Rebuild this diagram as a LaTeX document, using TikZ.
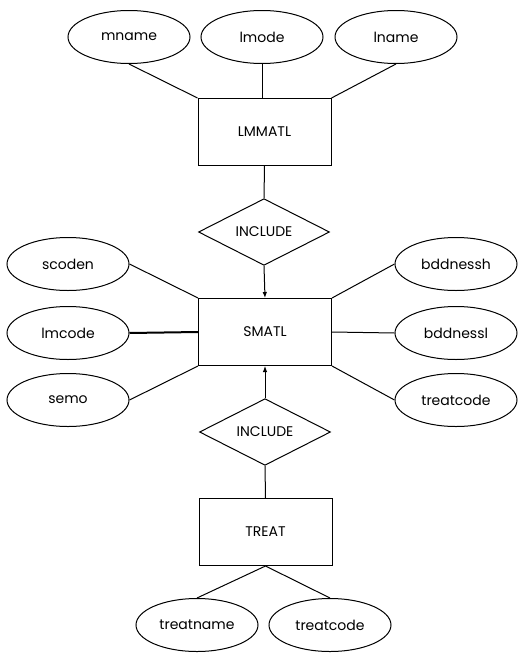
\documentclass[tikz,border=0pt]{standalone}
\usepackage{fontspec}
\setmainfont{Poppins}
\usetikzlibrary{shapes.geometric,arrows.meta}

\tikzset{
  entity/.style={draw, rectangle, minimum width=133pt, minimum height=67pt, inner sep=0pt, line width=1pt},
  attr/.style={draw, ellipse, minimum width=122pt, minimum height=53pt, inner sep=0pt, line width=1pt},
  rel/.style={draw, diamond, minimum width=131pt, minimum height=65pt, inner sep=0pt, line width=1pt},
  link/.style={line width=1pt},
  boldlink/.style={line width=2pt},
  arr/.style={line width=1pt, -{Latex[length=6pt,width=4.5pt]}},
  every node/.style={font=\fontsize{14pt}{16pt}\selectfont}
}

\begin{document}
\begin{tikzpicture}[x=1pt, y=-1pt]
\useasboundingbox (0,0) rectangle (518,656);

% top entity and its attributes
\node[attr] (mname) at (129,37) {mname};
\node[attr] (lmode) at (262,37) {lmode};
\node[attr] (lname) at (396,37) {lname};
\node[entity] (lmmatl) at (264.5,132) {LMMATL};

% first relationship
\node[rel] (inc1) at (264,232) {INCLUDE};

% central entity
\node[entity] (smatl) at (265,332) {SMATL};
\node[attr] (scoden) at (68,264) {scoden};
\node[attr] (lmcode) at (68,333) {lmcode};
\node[attr] (semo) at (68,400) {semo};
\node[attr] (bddh) at (456,264) {bddnessh};
\node[attr] (bddl) at (456,333) {bddnessl};
\node[attr] (tcode1) at (456,400) {treatcode};

% second relationship and bottom entity
\node[rel] (inc2) at (265,432) {INCLUDE};
\node[entity] (treat) at (265.5,532) {TREAT};
\node[attr] (tname) at (197,625) {treatname};
\node[attr] (tcode2) at (330,625) {treatcode};

% connectors
\draw[link] (mname.south) -- (lmmatl.north west);
\draw[link] (lmode.south) -- (lmode.south |- lmmatl.north);
\draw[link] (lname.south) -- (lmmatl.north east);
\draw[link] (lmmatl.south) -- (inc1.north);
\draw[arr] (inc1.south) -- (smatl.north);
\draw[arr] (inc2.north) -- (smatl.south);
\draw[link] (scoden.east) -- (smatl.north west);
\draw[boldlink] (lmcode.east) -- (smatl.west);
\draw[link] (semo.east) -- (smatl.south west);
\draw[link] (bddh.west) -- (smatl.north east);
\draw[link] (bddl.west) -- (smatl.east);
\draw[link] (tcode1.west) -- (smatl.south east);
\draw[link] (inc2.south) -- (treat.north);
\draw[link] (treat.south) -- (tname.north);
\draw[link] (treat.south) -- (tcode2.north);
\end{tikzpicture}
\end{document}
